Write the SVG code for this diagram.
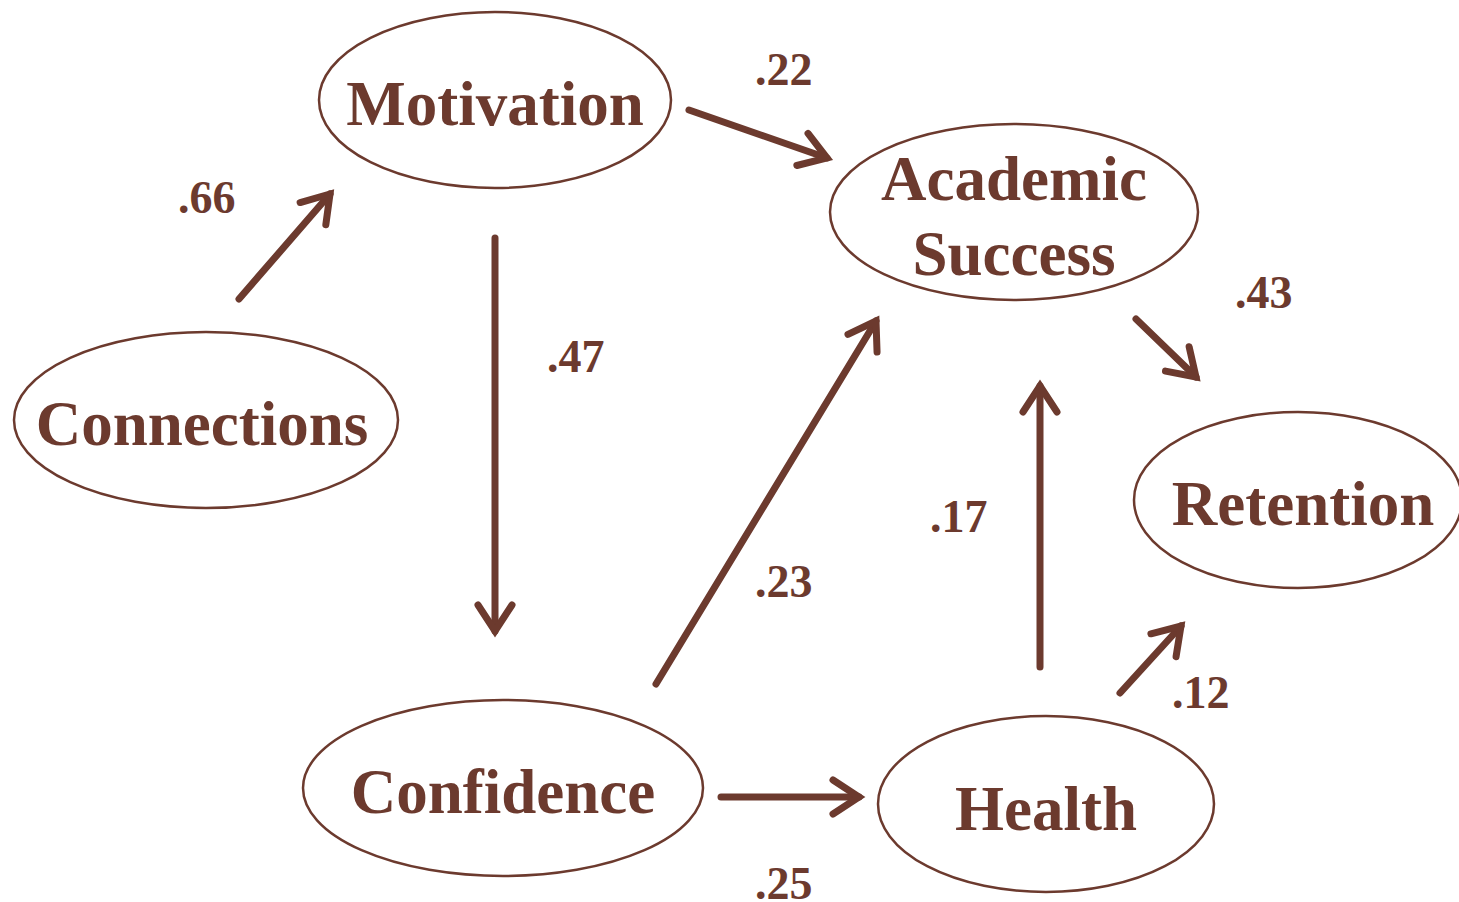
<svg xmlns="http://www.w3.org/2000/svg" width="1459" height="902" viewBox="0 0 1459 902">
<defs>
<style>
.node ellipse{fill:#fff;stroke:#6c3a2e;stroke-width:2.5}
.node text{font-family:"Liberation Serif","Times New Roman",serif;font-weight:bold;font-size:63px;fill:#6c3a2e;text-anchor:middle}
.conn line{stroke:#6c3a2e;stroke-width:7;stroke-linecap:round;marker-end:url(#ah)}
.lbl{font-family:"Liberation Serif","Times New Roman",serif;font-weight:bold;font-size:46px;fill:#6c3a2e}
</style>
<marker id="ah" markerUnits="userSpaceOnUse" viewBox="-40 -30 50 60" markerWidth="50" markerHeight="60" refX="0" refY="0" orient="auto" overflow="visible">
<path d="M-26,-17 L0,0 L-26,17" fill="none" stroke="#6c3a2e" stroke-width="7" stroke-linecap="round" stroke-linejoin="miter"/>
</marker>
</defs>
<rect width="1459" height="902" fill="#fff"/>
<g id="connectors" class="conn">
<line x1="239" y1="299" x2="330" y2="194"/>
<line x1="689" y1="110" x2="827" y2="158"/>
<line x1="495" y1="238" x2="495" y2="631"/>
<line x1="656" y1="684" x2="876" y2="321"/>
<line x1="721" y1="797" x2="859" y2="797"/>
<line x1="1040" y1="667" x2="1040" y2="386"/>
<line x1="1120" y1="693" x2="1181" y2="626"/>
<line x1="1136" y1="319" x2="1196" y2="377"/>
</g>
<g id="labels">
<text class="lbl" x="755" y="85">.22</text>
<text class="lbl" x="178" y="213">.66</text>
<text class="lbl" x="547" y="372">.47</text>
<text class="lbl" x="1235" y="308">.43</text>
<text class="lbl" x="930" y="532">.17</text>
<text class="lbl" x="755" y="597">.23</text>
<text class="lbl" x="1172" y="708">.12</text>
<text class="lbl" x="755" y="899">.25</text>
</g>
<g id="motivation" class="node"><ellipse cx="495" cy="100" rx="176" ry="88"/><text x="495" y="125">Motivation</text></g>
<g id="academic" class="node"><ellipse cx="1014" cy="212" rx="184" ry="88"/><text x="1014" y="200">Academic</text><text x="1014" y="275">Success</text></g>
<g id="connections" class="node"><ellipse cx="206" cy="420" rx="192" ry="88"/><text x="202" y="445">Connections</text></g>
<g id="retention" class="node"><ellipse cx="1298" cy="500" rx="164" ry="88"/><text x="1303" y="525">Retention</text></g>
<g id="confidence" class="node"><ellipse cx="503" cy="788" rx="200" ry="88"/><text x="503" y="813">Confidence</text></g>
<g id="health" class="node"><ellipse cx="1046" cy="804" rx="168" ry="88"/><text x="1046" y="830">Health</text></g>
</svg>
